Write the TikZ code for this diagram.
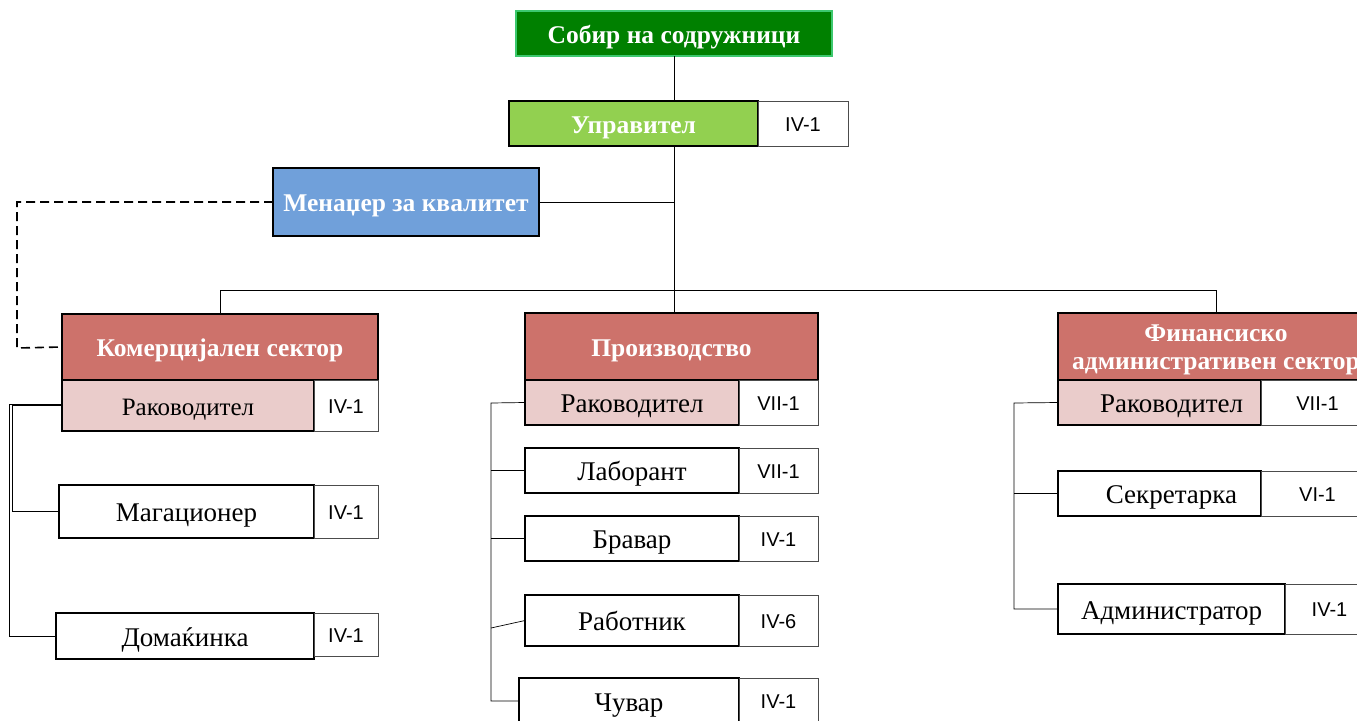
\documentclass[tikz,border=0pt]{standalone}
\usepackage{fontspec}
\setmainfont{Liberation Serif}
\newfontfamily\arialf{Liberation Sans}
\definecolor{dgreen}{RGB}{0,128,0}
\definecolor{dgborder}{RGB}{60,200,110}
\definecolor{lgreen}{RGB}{146,208,80}
\definecolor{qblue}{RGB}{112,160,218}
\definecolor{sred}{RGB}{205,114,107}
\definecolor{spink}{RGB}{234,204,203}
\tikzset{
  bx/.style={draw=black, line width=1.4pt, inner sep=0pt, outer sep=0pt, anchor=north west, align=center},
  gr/.style={bx, draw=black!70, line width=0.8pt, font=\arialf\fontsize{20}{24}\selectfont, text height=15pt, text depth=0pt},
  hd/.style={bx, text=white, font=\bfseries\fontsize{25.5}{30}\selectfont, text height=19pt, text depth=0pt},
  jb/.style={bx, font=\fontsize{27}{30}\selectfont, text height=20pt, text depth=0pt},
  conn/.style={line width=0.9pt, black},
}
\begin{document}
\begin{tikzpicture}[x=1pt,y=-1pt]
\useasboundingbox (0,0) rectangle (1357,720);
\clip (0,0) rectangle (1357,720);
% top
\node[hd, fill=dgreen, draw=dgborder, minimum width=316, minimum height=45] (sob) at (516,11) {Собир на содружници};
\node[hd, fill=lgreen, minimum width=249, minimum height=45] (upr) at (509,101) {Управител};
\node[gr, minimum width=90, minimum height=45] (uprg) at (758,101) {IV-1};
\node[hd, fill=qblue, minimum width=266, minimum height=68] (men) at (273,168) {Менаџер за квалитет};
\coordinate (bus) at (674,290);
% sectors
\node[hd, fill=sred, minimum width=316, minimum height=66] (kom) at (62,314) {Комерцијален сектор};
\node[hd, fill=sred, minimum width=293, minimum height=67] (pro) at (525,313) {Производство};
\node[hd, fill=sred, minimum width=316, minimum height=67, font=\bfseries\fontsize{25.5}{28}\selectfont, text height=45pt] (fin) at (1058,313) {Финансиско\\административен сектор};
% left column
\node[jb, fill=spink, minimum width=252, minimum height=51, font=\fontsize{25}{28}\selectfont] (k1) at (62,380) {Раководител};
\node[gr, minimum width=64, minimum height=51] (k1g) at (314,380) {IV-1};
\node[jb, minimum width=255, minimum height=53] (k2) at (59,485) {Магационер};
\node[gr, minimum width=64, minimum height=53] (k2g) at (314,485) {IV-1};
\node[jb, minimum width=258, minimum height=46] (k3) at (56,613) {Домаќинка};
\node[gr, minimum width=64, minimum height=43] (k3g) at (314,613) {IV-1};
% middle column
\node[jb, fill=spink, minimum width=214, minimum height=45] (p1) at (525,380) {Раководител};
\node[gr, minimum width=79, minimum height=45] (p1g) at (739,380) {VII-1};
\node[jb, minimum width=214, minimum height=45] (p2) at (525,448) {Лаборант};
\node[gr, minimum width=79, minimum height=45] (p2g) at (739,448) {VII-1};
\node[jb, minimum width=214, minimum height=45] (p3) at (525,516) {Бравар};
\node[gr, minimum width=79, minimum height=45] (p3g) at (739,516) {IV-1};
\node[jb, minimum width=214, minimum height=51] (p4) at (525,595) {Работник};
\node[gr, minimum width=79, minimum height=51] (p4g) at (739,595) {IV-6};
\node[jb, minimum width=220, minimum height=46] (p5) at (519,678) {Чувар};
\node[gr, minimum width=79, minimum height=46] (p5g) at (739,678) {IV-1};
% right column
\node[jb, fill=spink, minimum width=203, minimum height=45] (f1) at (1058,380) {\hspace*{24pt}Раководител};
\node[gr, minimum width=113, minimum height=45] (f1g) at (1261,380) {VII-1};
\node[jb, minimum width=203, minimum height=45] (f2) at (1058,471) {\hspace*{24pt}Секретарка};
\node[gr, minimum width=113, minimum height=45] (f2g) at (1261,471) {VI-1};
\node[jb, minimum width=227, minimum height=50] (f3) at (1058,584) {Администратор};
\node[gr, minimum width=89, minimum height=50] (f3g) at (1285,584) {IV-1};
% connectors
\draw[conn] (sob.south) -- (sob.south |- upr.north);
\draw[conn] (sob.south |- upr.south) -- (bus);
\draw[conn] (men.east) -- (men.east -| bus);
\draw[conn] (kom.north) -- (kom.north |- bus) -- (fin.north |- bus) -- (fin.north);
\draw[conn] (bus) -- (bus |- pro.north);
\draw[line width=1.6pt, dash pattern=on 9pt off 5pt] (men.west) -- (17,202) -- (17,348) -- (kom.west);
% left tree
\draw[conn, line width=0.7pt] (k1.west) -- ++(-50,0) |- (k2.west);
\draw[conn, line width=0.7pt] ([yshift=1.5]k1.west) -- ++(-53,0) |- (k3.west);
% middle tree
\coordinate (mv) at (491,403);
\draw[conn, line width=0.7pt] (p1.west) -- (mv) -- (mv |- p5.west) -- (p5.west);
\draw[conn, line width=0.7pt] (p2.west) -- (p2.west -| mv);
\draw[conn, line width=0.7pt] (p3.west) -- (p3.west -| mv);
\draw[conn, line width=0.7pt] (p4.west) -- (491,628);
% right tree
\coordinate (fv) at (1014,403);
\draw[conn, line width=0.7pt] (f1.west) -- (fv) |- (f3.west);
\draw[conn, line width=0.7pt] (f2.west) -- (f2.west -| fv);
\end{tikzpicture}
\end{document}
